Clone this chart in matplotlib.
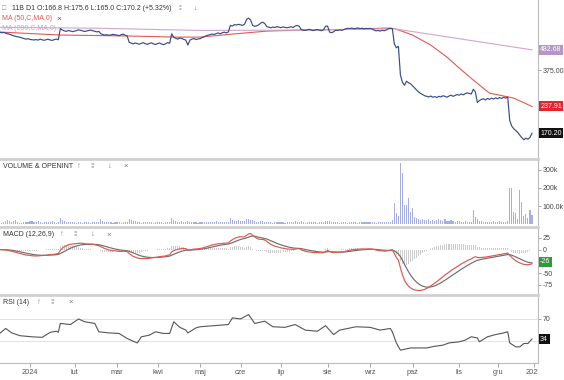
import numpy as np
import pandas as pd
import matplotlib
matplotlib.use("Agg")
import matplotlib.pyplot as plt

plt.rcParams['font.family'] = ['Liberation Sans', 'DejaVu Sans']

# GPW trading days shown on the chart
holidays = ["2023-12-25", "2023-12-26", "2024-01-01", "2024-03-29", "2024-04-01",
            "2024-05-01", "2024-05-03", "2024-05-30", "2024-08-15", "2024-11-01",
            "2024-11-11", "2024-12-24", "2024-12-25", "2024-12-26"]
dates = pd.bdate_range("2023-12-07", "2024-12-30")
dates = dates[~dates.isin(pd.to_datetime(holidays))]

# daily closes
closes = [
    602, 598, 600, 594, 590, 586, 580, 575, 571, 568, 565, 560, 556, 552, 555,            # gru 23
    550, 548, 546, 549, 545, 552, 547, 544, 548, 551, 546, 543, 549, 552, 548,            # sty
    630, 618, 612, 608, 615, 611, 606,
    610, 614, 620, 616, 612, 607, 611, 615, 618, 613, 609, 604, 608,                      # lut
    590, 585, 580, 584, 578, 582, 586, 583,
    580, 576, 583, 588, 579, 575, 530, 525, 520, 526, 522, 518, 524, 528, 521, 517,       # mar
    523, 527, 520, 516,
    522, 526, 519, 515, 521, 528, 524, 590, 565, 558, 552, 560, 556, 550, 545, 512,       # kwi
    545, 552, 556, 549, 553,
    555, 562, 568, 575, 580, 584, 588, 585, 592, 596, 590, 598, 602, 597, 604,            # maj
    655, 650, 662, 658, 664,
    660, 655, 665, 705, 718, 700, 655, 648, 652, 660, 675, 682, 670, 645, 640, 636,       # cze
    642, 638, 645, 641,
    637, 643, 639, 636, 640, 644, 638, 650, 655, 648, 622, 618, 615, 620, 624, 618,       # lip
    614, 619, 622, 617, 613, 620, 648,
    650, 603, 598, 605, 618, 615, 620, 616, 621, 628, 632, 630, 634, 628, 631, 635,       # sie
    629, 633, 627, 631, 629,
    632, 626, 618, 612, 615, 610, 617, 613, 619, 628, 632, 629, 520, 495, 505, 352,       # wrz
    322, 310, 326, 320, 316,
    308, 300, 292, 285, 280, 276, 272, 270, 268, 271, 267, 269, 266, 270, 268, 272,       # paz
    270, 267, 271, 274, 270, 273, 276,
    274, 278, 275, 279, 282, 280, 278, 295, 286, 250, 256, 260, 262, 258, 263, 260,       # lis
    264, 261, 265,
    262, 266, 263, 267, 264, 268, 200, 186, 180, 176, 172, 166, 161, 157, 160, 158,       # gru
    161.6, 170.2,
]

# daily volume, thousands
volumes = [
    12, 8, 10, 15, 22, 18, 9, 14, 20, 11, 8, 7, 12, 9, 10,
    14, 18, 11, 9, 16, 13, 8, 10, 12, 9, 11, 14, 10, 8, 12, 35, 22, 15, 12, 10, 9, 11,
    10, 8, 12, 9, 7, 11, 13, 9, 8, 10, 12, 9, 11, 26, 18, 13, 10, 9, 12, 8, 10,
    9, 11, 8, 10, 12, 9, 30, 22, 16, 14, 11, 9, 8, 13, 10, 12, 9, 11, 8, 10,
    9, 10, 12, 8, 11, 9, 10, 32, 20, 15, 12, 11, 14, 10, 9, 18, 12, 10, 9, 11, 8,
    10, 9, 12, 11, 13, 10, 9, 12, 14, 11, 10, 13, 12, 9, 11, 34, 24, 18, 15, 20,
    16, 14, 18, 28, 30, 22, 25, 15, 13, 12, 18, 16, 12, 10, 9, 11, 8, 10, 9, 12,
    9, 10, 8, 11, 9, 12, 10, 16, 12, 9, 14, 10, 8, 9, 11, 10, 9, 12, 8, 10, 9, 11, 15,
    14, 18, 12, 10, 9, 11, 8, 10, 9, 12, 8, 10, 9, 11, 10, 8, 12, 9, 10, 11, 9,
    10, 9, 12, 8, 10, 11, 9, 12, 10, 9, 11, 25, 115, 60, 45, 340, 283, 105, 105, 145, 67,
    90, 40, 35, 30, 25, 28, 22, 20, 30, 18, 25, 15, 20, 28, 22, 15, 30, 18, 14, 20, 16, 12, 15,
    14, 12, 10, 15, 12, 11, 13, 78, 40, 30, 18, 14, 12, 10, 11, 13, 12, 15, 11,
    12, 14, 10, 13, 11, 15, 200, 200, 67, 60, 30, 190, 120, 45, 55, 35, 80, 50,
]

# moving averages (bar index, value)
ma50_idx = [0, 30, 64, 87, 99, 115, 132, 148, 168, 191, 195, 204, 213, 221, 227, 234, 242, 247, 254, 263]
ma50_val = [603, 581, 574, 566, 566, 588, 610, 618, 622, 634, 630, 581, 512, 441, 385, 331, 281, 274, 264, 237.91]
ma200_idx = [0, 50, 99, 148, 195, 263]
ma200_val = [640, 632, 615, 618, 628, 482.68]

# RSI(14)
rsi_idx = [0, 3, 6, 10, 16, 21, 25, 28, 29, 30, 35, 39, 42, 47, 49, 54, 59, 63, 66, 68,
           70, 74, 77, 81, 84, 86, 89, 92, 93, 97, 99, 106, 113, 115, 119, 123, 126, 131,
           135, 141, 146, 151, 157, 161, 165, 168, 176, 183, 188, 193, 194, 196, 198, 203,
           211, 215, 219, 222, 227, 230, 233, 236, 237, 241, 245, 249, 251, 252, 255, 257,
           259, 261, 263]
rsi_val = [44, 53, 45, 40, 38, 37, 46, 48, 46, 62, 60, 70, 65, 62, 47, 45, 44, 35, 30, 27,
           38, 41, 47, 44, 44, 65, 55, 50, 45, 54, 56, 58, 60, 72, 70, 78, 62, 66,
           56, 55, 60, 50, 48, 58, 42, 50, 56, 55, 50, 53, 47, 27, 14, 18,
           18, 21, 23, 27, 29, 32, 38, 36, 29, 38, 42, 45, 47, 27, 20, 20,
           26, 26, 34]

last_ma200 = 482.68
last_ma50 = 237.91
last_close = 170.20
last_macd = -26
last_rsi = 34

month_labels = ["2024", "lut", "mar", "kwi", "maj", "cze", "lip", "sie", "wrz",
                "paź", "lis", "gru", "2025"]

# ---- indicators ----
x = np.arange(len(closes))
s = pd.Series(closes, dtype=float)
macd = s.ewm(span=12, adjust=False).mean() - s.ewm(span=26, adjust=False).mean()
signal = macd.ewm(span=9, adjust=False).mean()
hist = macd - signal

month_pos = [i for i in range(1, len(dates)) if dates[i].month != dates[i - 1].month]
month_pos.append(len(dates))

# ---- layout ----
W, H = 564, 380
fig = plt.figure(figsize=(W / 100, H / 100), dpi=100)
fig.patch.set_facecolor('white')


def box(top, bottom, right=538):
    return [0, 1 - bottom / H, right / W, (bottom - top) / H]


def px(xp, yp):
    return xp / W, 1 - yp / H


ax_p = fig.add_axes(box(0, 157))
ax_v = fig.add_axes(box(159, 225))
ax_m = fig.add_axes(box(227, 293))
ax_r = fig.add_axes(box(295, 363))
ax_l = fig.add_axes(box(363, 380))

xlim = (0.18, 265.97)
for i, ax in enumerate([ax_p, ax_v, ax_m, ax_r]):
    ax.set_xlim(*xlim)
    ax.set_facecolor('white')
    ax.yaxis.tick_right()
    ax.tick_params(axis='y', labelsize=5, labelcolor='#444', length=2, width=0.5,
                   color='#888', pad=1.5)
    ax.spines['left'].set_visible(False)
    ax.spines['bottom'].set_visible(False)
    ax.spines['right'].set_color('#bbbbbb')
    ax.spines['right'].set_linewidth(0.8)
    if i == 0:
        ax.spines['top'].set_visible(False)
    else:
        ax.spines['top'].set_color('#d0d0d0')
        ax.spines['top'].set_linewidth(2)
    ax.set_xticks([])

# price panel
ax_p.plot(x, closes, color='#3a4a8c', lw=0.85, zorder=3)
ax_p.plot(ma50_idx, ma50_val, color='#e25a55', lw=0.8, zorder=2)
ax_p.plot(ma200_idx, ma200_val, color='#cfa5cc', lw=0.8, zorder=2)
ax_p.set_yscale('log')
ax_p.set_ylim(126.5, 900)
ax_p.yaxis.set_minor_locator(matplotlib.ticker.NullLocator())
ax_p.set_yticks([375])
ax_p.set_yticklabels(["375.00"])


def flag(ax, y, text, fc):
    ax.text(1.004, y, text, transform=ax.get_yaxis_transform(), fontsize=5,
            color='white', va='center', ha='left', clip_on=False, zorder=6,
            bbox=dict(boxstyle='square,pad=0.22', fc=fc, ec='none'))


flag(ax_p, last_ma200, f"{last_ma200:.2f}", '#b795c9')
flag(ax_p, last_ma50, f"{last_ma50:.2f}", '#e4232b')
flag(ax_p, last_close, f"{last_close:.2f}", '#111111')

# volume panel
ax_v.bar(x, volumes, width=0.55, color='#a6aee2', zorder=2)
ax_v.set_ylim(-5.5, 361)
ax_v.set_yticks([100, 200, 300])
ax_v.set_yticklabels(["100.0k", "200k", "300k"])

# MACD panel
ax_m.bar(x, hist, width=0.5, color='#cccccc', zorder=1)
ax_m.plot(x, macd, color='#e0574e', lw=0.85, zorder=3)
ax_m.plot(x, signal, color='#6e6e6e', lw=0.85, zorder=2)
ax_m.set_ylim(-92.5, 48)
ax_m.set_yticks([25, 0, -50, -75])
ax_m.set_yticklabels(["25", "0", "-50", "-75"])
flag(ax_m, last_macd, f"{last_macd}", '#2e9a3c')

# RSI panel
ax_r.axhline(70, color='#e2e2e2', lw=0.7, zorder=1)
ax_r.axhline(30, color='#e2e2e2', lw=0.7, zorder=1)
ax_r.plot(rsi_idx, rsi_val, color='#555555', lw=0.8, zorder=3)
ax_r.set_ylim(-9, 113)
ax_r.set_yticks([70])
ax_r.set_yticklabels(["70"])
ax_r.spines['bottom'].set_visible(True)
ax_r.spines['bottom'].set_color('#bbbbbb')
ax_r.spines['bottom'].set_linewidth(0.8)
ax_r.set_xticks(month_pos)
ax_r.tick_params(axis='x', length=3, width=0.6, color='#999999', labelbottom=False)
flag(ax_r, last_rsi, f"{last_rsi}", '#111111')

# month labels (clipped at the price scale like the original)
ax_l.set_xlim(*xlim)
ax_l.set_ylim(0, 1)
ax_l.axis('off')
for pos, lab in zip(month_pos, month_labels):
    ax_l.text(pos, 0.42, lab, ha='center', va='center', fontsize=5.3,
              color='#555555', clip_on=True)

# ---- panel headers ----
tc = '#333333'
fig.text(*px(2, 8), "□", fontsize=5, color='#888888', va='center')
fig.text(*px(12, 8), "11B D1 O:166.8 H:175.6 L:165.0 C:170.2 (+5.32%)",
         fontsize=5, color=tc, va='center')
fig.text(*px(178, 8), "⁞⁞", fontsize=5, color='#777777', va='center')
fig.text(*px(193, 8), "↓", fontsize=5, color='#777777', va='center')
fig.text(*px(2, 19), "MA (50,C,MA,0)", fontsize=5, color='#e25a55', va='center')
fig.text(*px(56, 19), "×", fontsize=6, color='#555555', va='center')
fig.text(*px(2, 29), "MA (200,C,MA,0)", fontsize=5, color='#c9a2c9', va='center')

icon_c = '#777777'
fig.text(*px(3, 166), "VOLUME & OPENINT", fontsize=5, color=tc, va='center')
for xp, ic in [(77, "↑"), (90, "⁞⁞"), (108, "↓"), (123, "×")]:
    fig.text(*px(xp, 166), ic, fontsize=5.5, color=icon_c, va='center')

fig.text(*px(3, 235), "MACD (12,26,9)", fontsize=5, color=tc, va='center')
for xp, ic in [(60, "↑"), (73, "⁞⁞"), (91, "↓"), (106, "×")]:
    fig.text(*px(xp, 235), ic, fontsize=5.5, color=icon_c, va='center')

fig.text(*px(3, 302), "RSI (14)", fontsize=5, color=tc, va='center')
for xp, ic in [(37, "↑"), (50, "⁞⁞"), (68, "×")]:
    fig.text(*px(xp, 302), ic, fontsize=5.5, color=icon_c, va='center')

fig.savefig("out.png", dpi=100)
